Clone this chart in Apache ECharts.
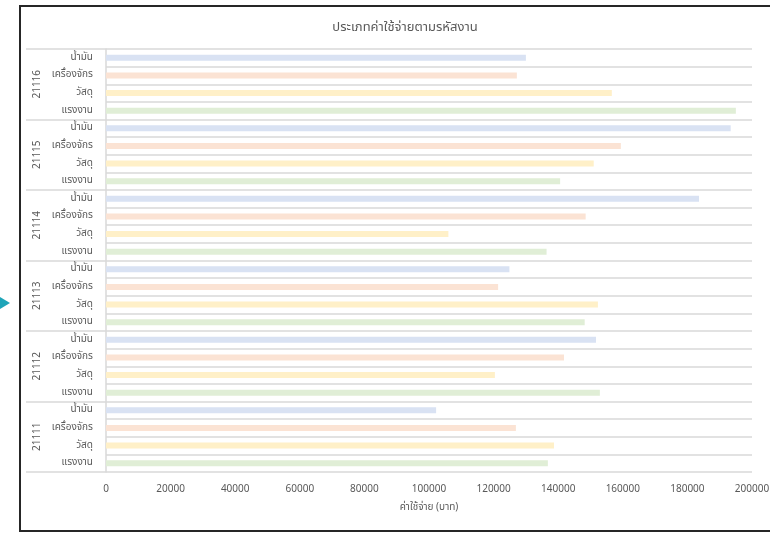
<!DOCTYPE html>
<html>
<head>
<meta charset="utf-8">
<script src="https://cdn.jsdelivr.net/npm/echarts@6/dist/echarts.min.js"></script>
<style>
  html, body { margin: 0; padding: 0; background: #fff; }
  #chart { width: 770px; height: 533px; }
</style>
</head>
<body>
<div id="chart"></div>
<script>
// รหัสงาน (ล่างขึ้นบน)
var groups = ['21111', '21112', '21113', '21114', '21115', '21116'];
// ประเภทค่าใช้จ่าย (บนลงล่างในแต่ละกลุ่ม)
var subs = ['น้ำมัน', 'เครื่องจักร', 'วัสดุ', 'แรงงาน'];
var xTicks = [0, 20000, 40000, 60000, 80000, 100000, 120000, 140000, 160000, 180000, 200000];

// ค่าของแต่ละประเภท ตามลำดับ groups
var oil      = [102200, 151700, 124900, 183600, 193400, 130000];
var machine  = [126900, 141800, 121400, 148500, 159400, 127200];
var material = [138700, 120400, 152300, 106000, 151000, 156600];
var labor    = [136800, 152900, 148200, 136400, 140600, 195000];

var subValues = [oil, machine, material, labor];
var subColors = ['#d9e2f3', '#fbe3d4', '#fff0c8', '#e0eed6'];

var font = "'Noto Sans Thai', Tahoma, 'DejaVu Sans', sans-serif";

// สร้างหมวดหมู่ 24 แถว (ล่างขึ้นบน)
var categories = [];
var barData = [];
groups.forEach(function (g, gi) {
  for (var s = subs.length - 1; s >= 0; s--) {
    categories.push(subs[s]);
    barData.push({
      value: subValues[s][gi],
      itemStyle: { color: subColors[s] }
    });
  }
});

var myChart = echarts.init(document.getElementById('chart'));

var option = {
  backgroundColor: '#fff',
  animation: false,
  textStyle: { fontFamily: font },
  title: {
    text: 'ประเภทค่าใช้จ่ายตามรหัสงาน',
    left: 400,
    top: 17,
    textAlign: 'center',
    textStyle: { fontSize: 13, fontWeight: 'normal', color: '#595959', fontFamily: font }
  },
  grid: {
    left: 106, right: 18, top: 49, bottom: 61,
    containLabel: false, outerBoundsMode: 'none'
  },
  xAxis: {
    type: 'value',
    min: xTicks[0],
    max: xTicks[xTicks.length - 1],
    interval: xTicks[1] - xTicks[0],
    axisLine: { show: false },
    axisTick: { show: false },
    splitLine: { show: false },
    axisLabel: {
      color: '#595959', fontSize: 10, margin: 13,
      formatter: function (v) { return String(v); }
    },
    name: 'ค่าใช้จ่าย (บาท)',
    nameLocation: 'middle',
    nameGap: 31,
    nameTextStyle: { color: '#595959', fontSize: 10 }
  },
  yAxis: [
    {
      type: 'category',
      data: categories,
      axisLine: { show: true, lineStyle: { color: '#d9d9d9', width: 1.5 } },
      axisTick: { show: false },
      splitLine: { show: true, lineStyle: { color: '#d9d9d9', width: 1.5 } },
      axisLabel: { color: '#595959', fontSize: 10, margin: 13, interval: 0 }
    },
    {
      type: 'category',
      position: 'left',
      offset: 0,
      data: groups,
      axisLine: { show: false },
      axisTick: { show: true, length: 80, lineStyle: { color: '#d9d9d9', width: 1.5 } },
      axisLabel: { color: '#595959', fontSize: 10, rotate: 90, margin: 63, interval: 0 }
    }
  ],
  series: [{
    type: 'bar',
    yAxisIndex: 0,
    barWidth: 6,
    data: barData
  }],
  graphic: [
    {
      type: 'rect',
      shape: { x: 20, y: 6, width: 780, height: 525 },
      style: { fill: null, stroke: '#262626', lineWidth: 2 },
      silent: true
    },
    {
      type: 'polygon',
      shape: { points: [[0, 297], [10, 303], [0, 309]] },
      style: { fill: '#1fa5b8' },
      silent: true
    }
  ]
};

myChart.setOption(option);
</script>
</body>
</html>
